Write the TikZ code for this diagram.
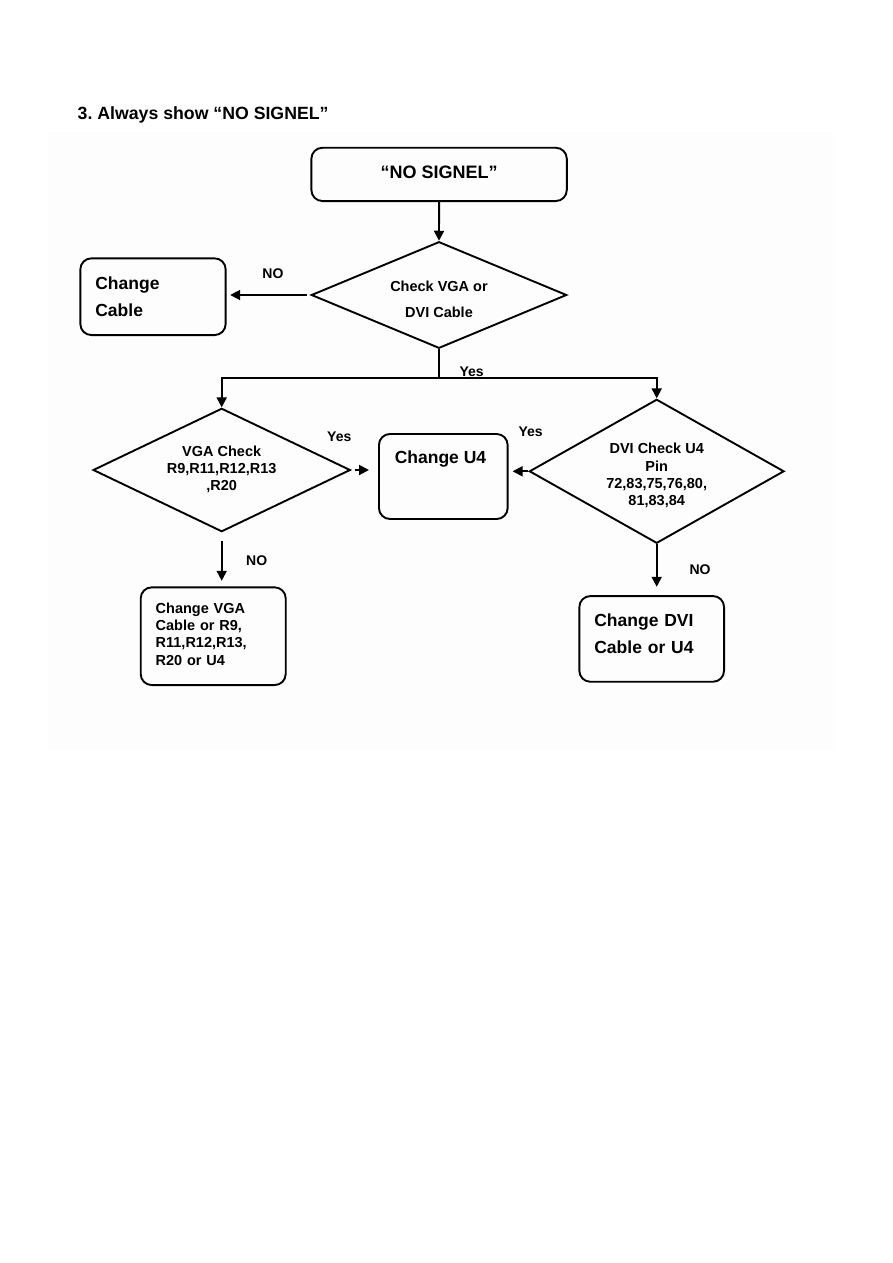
\documentclass[tikz,border=0pt]{standalone}
\usepackage{fontspec}
\setmainfont{Liberation Sans}
\usetikzlibrary{shapes.geometric,arrows.meta}
\newcommand{\vshift}[2]{\raisebox{#1}[\height][\depth]{#2}}
\tikzset{
  line/.style={line width=1.9pt, draw=black},
  arr/.style={line, -{Triangle[length=10pt,width=10pt]}},
  box/.style={line, rounded corners=11pt, rectangle, inner sep=0pt},
  lbox/.style={box, align=left, inner xsep=15pt},
  dia/.style={line, diamond, aspect=2, inner sep=0pt, align=center,
     font=\bfseries\fontsize{14.5}{17.3}\selectfont},
  lbl/.style={anchor=base, inner sep=0pt, font=\bfseries\fontsize{14}{16}\selectfont},
  big/.style={font=\bfseries\fontsize{17.5}{26.5}\selectfont},
  mid/.style={font=\bfseries\fontsize{14.5}{17.2}\selectfont}
}
\begin{document}
\begin{tikzpicture}[x=1pt,y=-1pt]
\useasboundingbox (0,0) rectangle (893,1263);
\fill[black!0.8] (48,132) rectangle (833,751);
\node[anchor=base west, inner sep=0pt, font=\bfseries\fontsize{17.7}{20}\selectfont] (title) at (77.5,119.3) {3.\ Always show “NO SIGNEL”};

\node[box, minimum width=255.4pt, minimum height=53.3pt, font=\bfseries\fontsize{18}{20}\selectfont] (start) at (439.1,174.4) {\vshift{2pt}{“NO SIGNEL”}};

\node[dia, font=\bfseries\fontsize{14.5}{26.3}\selectfont, minimum width=255.4pt, minimum height=106.6pt] (d1) at (439,295) {\vshift{-4.5pt}{\begin{tabular}{@{}c@{}}Check VGA or\\DVI Cable\end{tabular}}};

\node[lbox, big, minimum width=145.3pt, minimum height=76.7pt, text width=115.3pt] (cable) at (153,296.7) {Change\\Cable};

\coordinate (split) at (439,377.7);

\node[dia, minimum width=257.3pt, minimum height=123.4pt] (vga) at (221.7,470) {\begin{tabular}{@{}c@{}}VGA Check\\R9,R11,R12,R13\\,R20\end{tabular}};

\node[dia, minimum width=254.7pt, minimum height=144pt] (dvi) at (656.7,471.3) {\vshift{-5pt}{\begin{tabular}{@{}c@{}}DVI Check U4\\Pin\\72,83,75,76,80,\\81,83,84\end{tabular}}};

\node[box, minimum width=128.7pt, minimum height=85pt] (u4) at (443.3,476.5) {};
\node[big, anchor=base, inner sep=0pt] (u4t) at (440.5,463.5) {Change U4};

\node[lbox, mid, minimum width=145pt, minimum height=97.7pt, text width=115pt] (vgabox) at (213.2,636.2) {\vshift{2pt}{\parbox{115pt}{Change VGA\\Cable or R9,\\R11,R12,R13,\\R20 or U4}}};

\node[lbox, big, minimum width=144.7pt, minimum height=85.7pt, text width=114.7pt] (dvibox) at (651.7,638.9) {\vshift{5pt}{\parbox{114.7pt}{Change DVI\\Cable or U4}}};

\draw[arr] (start.south) -- (d1.north);
\draw[arr, shorten <=3.5pt, shorten >=3.6pt] (d1.west) -- (d1.west -| cable.east);
\draw[line] (d1.south) -- (split);
\draw[arr] (split) -| (vga.north);
\draw[arr] (split) -| (dvi.north);
\draw[arr, shorten <=3.3pt, shorten >=9pt] (vga.east) -- (vga.east -| u4.west);
\draw[arr, shorten >=4pt] (dvi.west) -- (dvi.west -| u4.east);
\draw[arr, shorten <=8.3pt, shorten >=5.6pt] (vga.south) -- (vga.south |- vgabox.north);
\draw[arr, shorten >=8.3pt] (dvi.south) -- (dvi.south |- dvibox.north);

\node[lbl] (no1) at (272.9,278.3) {NO};
\node[lbl] (yes1) at (471.7,376.5) {Yes};
\node[lbl] (yes2) at (339.3,441) {Yes};
\node[lbl] (yes3) at (530.7,436.7) {Yes};
\node[lbl] (no2) at (256.7,565) {NO};
\node[lbl] (no3) at (700,574) {NO};
\end{tikzpicture}
\end{document}
